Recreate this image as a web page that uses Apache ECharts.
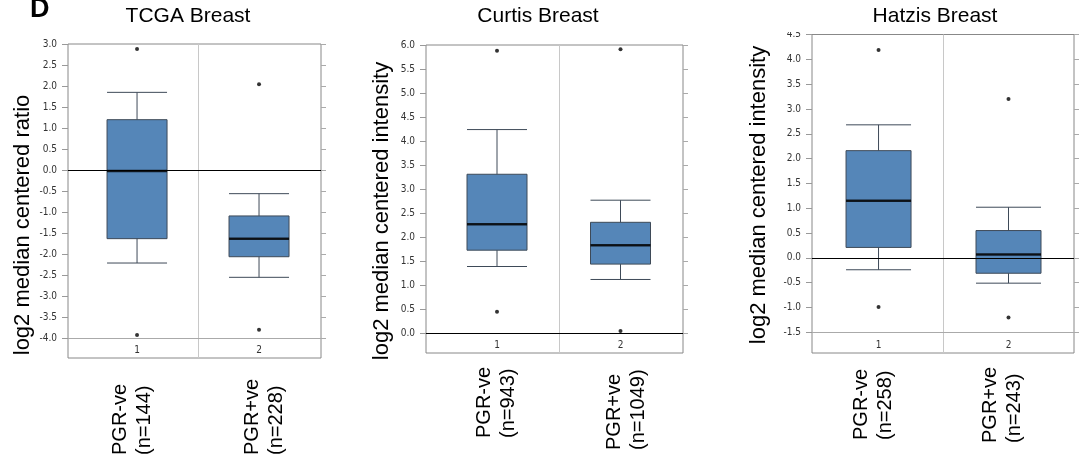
<!DOCTYPE html>
<html>
<head>
<meta charset="utf-8">
<title>PGR boxplots</title>
<script src="https://cdn.jsdelivr.net/npm/echarts@6.0.0/dist/echarts.min.js"></script>
<style>
    html, body { margin: 0; padding: 0; background: #fff; }
    #chart { width: 1090px; height: 459px; }
</style>
</head>
<body>
<div id="chart"></div>
<script type="text/javascript">

    // 数据
    var titles = ['TCGA Breast', 'Curtis Breast', 'Hatzis Breast'];
    var yNames = ['log2 median centered ratio', 'log2 median centered intensity', 'log2 median centered intensity'];
    var catNumbers = ['1', '2'];

    var tcgaGroups = ['PGR-ve\n(n=144)', 'PGR+ve\n(n=228)'];
    var curtisGroups = ['PGR-ve\n(n=943)', 'PGR+ve\n(n=1049)'];
    var hatzisGroups = ['PGR-ve\n(n=258)', 'PGR+ve\n(n=243)'];

    // [min, Q1, median, Q3, max]
    var tcgaBox = [[-2.21, -1.63, -0.02, 1.20, 1.85], [-2.55, -2.06, -1.63, -1.09, -0.56]];
    var curtisBox = [[1.39, 1.73, 2.27, 3.31, 4.24], [1.12, 1.44, 1.83, 2.31, 2.77]];
    var hatzisBox = [[-0.24, 0.21, 1.15, 2.16, 2.68], [-0.51, -0.31, 0.07, 0.55, 1.02]];

    var tcgaOutliers = [[2.88, -3.92], [2.04, -3.80]];
    var curtisOutliers = [[5.88, 0.45], [5.91, 0.05]];
    var hatzisOutliers = [[4.19, -0.99], [3.20, -1.20]];

    var tcgaTicks = [-4.0, -3.5, -3.0, -2.5, -2.0, -1.5, -1.0, -0.5, 0.0, 0.5, 1.0, 1.5, 2.0, 2.5, 3.0];
    var curtisTicks = [0.0, 0.5, 1.0, 1.5, 2.0, 2.5, 3.0, 3.5, 4.0, 4.5, 5.0, 5.5, 6.0];
    var hatzisTicks = [-1.5, -1.0, -0.5, 0.0, 0.5, 1.0, 1.5, 2.0, 2.5, 3.0, 3.5, 4.0, 4.5];

    // 版面
    var panels = [
        { box: tcgaBox, out: tcgaOutliers, ticks: tcgaTicks, groups: tcgaGroups, baseLine: -4.0,
          left: 68, top: 44, width: 253, height: 314, yMin: -4.469, yMax: 3.0,
          xMin: 0.434, xMax: 2.508, labMin: 0.511, labMax: 2.428, labMargin: 97, labPad: [0, 0], boxW: 60,
          titleX: 188, nameX: 23, nameY: 225 },
        { box: curtisBox, out: curtisOutliers, ticks: curtisTicks, groups: curtisGroups, baseLine: 0.0,
          left: 426, top: 45, width: 257, height: 308, yMin: -0.41, yMax: 6.0,
          xMin: 0.425, xMax: 2.506, labMin: 0.454, labMax: 2.431, labMargin: 97, labPad: [12, 0], boxW: 60,
          titleX: 538, nameX: 382, nameY: 211 },
        { box: hatzisBox, out: hatzisOutliers, ticks: hatzisTicks, groups: hatzisGroups, baseLine: -1.5,
          left: 812, top: 34.5, width: 262, height: 318.5, yMin: -1.917, yMax: 4.5,
          xMin: 0.488, xMax: 2.504, labMin: 0.527, labMax: 2.558, labMargin: 90, labPad: [3, 0], boxW: 65,
          titleX: 935, nameX: 759, nameY: 195 }
    ];

    var tickFont = '"DejaVu Sans Condensed", "DejaVu Sans", sans-serif';
    var mainFont = '"Liberation Sans", Arial, sans-serif';

    var grid = [], xAxis = [], yAxis = [], series = [], title = [], graphic = [];

    panels.forEach(function (p, i) {
        grid.push({
            left: p.left, top: p.top, width: p.width, height: p.height,
            show: true, borderColor: '#888', borderWidth: 1
        });

        title.push({
            text: titles[i], left: p.titleX, top: 6, textAlign: 'center', padding: 0,
            textStyle: { fontFamily: mainFont, fontSize: 21, fontWeight: 'normal', color: '#000' }
        });

        graphic.push({
            type: 'text', x: p.nameX, y: p.nameY, rotation: Math.PI / 2,
            style: {
                text: yNames[i], font: '22px ' + mainFont, fill: '#000',
                align: 'center', verticalAlign: 'middle',
                textAlign: 'center', textVerticalAlign: 'middle'
            }
        });

        // 类别 1 / 2
        xAxis.push({
            gridIndex: i, type: 'value', min: p.xMin, max: p.xMax,
            axisLine: { show: false }, axisTick: { show: false }, splitLine: { show: false },
            axisLabel: {
                inside: true, margin: 3, customValues: [1, 2],
                fontFamily: tickFont, fontSize: 10, color: '#333',
                formatter: function (v) { return catNumbers[Math.round(v) - 1]; }
            }
        });
        // 分组名称 (竖排)
        var labelRich = {};
        p.labPad.forEach(function (pad, k) {
            labelRich['g' + k] = {
                fontFamily: mainFont, fontSize: 20, color: '#000', lineHeight: 24,
                padding: [0, 0, 0, pad]
            };
        });
        xAxis.push({
            gridIndex: i, type: 'value', position: 'bottom', min: p.labMin, max: p.labMax,
            axisLine: { show: false }, axisTick: { show: false }, splitLine: { show: false },
            axisLabel: {
                customValues: [1, 2], rotate: 90, align: 'left', verticalAlign: 'middle',
                margin: p.labMargin, lineHeight: 24,
                fontFamily: mainFont, fontSize: 20, color: '#000',
                rich: labelRich,
                formatter: function (v) {
                    var k = Math.round(v) - 1;
                    return p.groups[k].split('\n').map(function (s) {
                        return '{g' + k + '|' + s + '}';
                    }).join('\n');
                }
            }
        });

        yAxis.push({
            gridIndex: i, type: 'value', min: p.yMin, max: p.yMax,
            axisLine: { show: false }, splitLine: { show: false },
            axisTick: { show: true, customValues: p.ticks, length: 6, lineStyle: { color: '#999' } },
            axisLabel: {
                customValues: p.ticks, margin: 11,
                fontFamily: tickFont, fontSize: 10, color: '#333',
                formatter: function (v) { return v.toFixed(1); }
            }
        });
        yAxis.push({
            gridIndex: i, type: 'value', position: 'right', min: p.yMin, max: p.yMax,
            axisLine: { show: false }, splitLine: { show: false },
            axisTick: { show: true, customValues: p.ticks, length: 5, lineStyle: { color: '#aaa' } },
            axisLabel: { show: false }
        });

        series.push({
            type: 'boxplot', xAxisIndex: i * 2, yAxisIndex: i * 2, layout: 'horizontal',
            boxWidth: [p.boxW, p.boxW],
            data: p.box.map(function (s, k) { return [k + 1].concat(s); }),
            itemStyle: { color: '#5586b8', borderColor: '#3e4a58', borderWidth: 1 },
            emphasis: { disabled: true },
            silent: true,
            markLine: {
                silent: true, symbol: 'none', label: { show: false },
                data: [
                    { xAxis: 1.5, lineStyle: { color: '#c8c8c8', type: 'solid', width: 1 } },
                    { yAxis: p.baseLine, lineStyle: { color: '#aaa', type: 'solid', width: 1 } },
                    { yAxis: 0, lineStyle: { color: '#000', type: 'solid', width: 1 } }
                ]
            }
        });
        series.push({
            type: 'scatter', xAxisIndex: i * 2, yAxisIndex: i * 2, z: 5, silent: true,
            symbol: 'rect', symbolSize: [p.boxW, 2.5],
            itemStyle: { color: '#000' },
            data: p.box.map(function (s, k) { return [k + 1, s[2]]; })
        });
        var pts = [];
        p.out.forEach(function (arr, k) {
            arr.forEach(function (v) { pts.push([k + 1, v]); });
        });
        series.push({
            type: 'scatter', xAxisIndex: i * 2, yAxisIndex: i * 2, z: 5, silent: true,
            symbol: 'circle', symbolSize: 4,
            itemStyle: { color: '#000' },
            data: pts
        });
    });

    // 第三幅顶部刻度被裁切
    graphic.push({
        type: 'rect', shape: { x: 780, y: 24, width: 31, height: 8 },
        style: { fill: '#fff' }, z: 100
    });

    graphic.push({
        type: 'text', x: 30, y: 10,
        style: {
            text: 'D', font: 'bold 27px ' + mainFont, fill: '#000',
            align: 'left', verticalAlign: 'middle',
            textAlign: 'left', textVerticalAlign: 'middle'
        }
    });

    var myChart = echarts.init(document.getElementById('chart'));
    myChart.setOption({
        animation: false,
        backgroundColor: '#fff',
        title: title,
        grid: grid,
        xAxis: xAxis,
        yAxis: yAxis,
        graphic: graphic,
        series: series
    });

</script>
</body>
</html>
